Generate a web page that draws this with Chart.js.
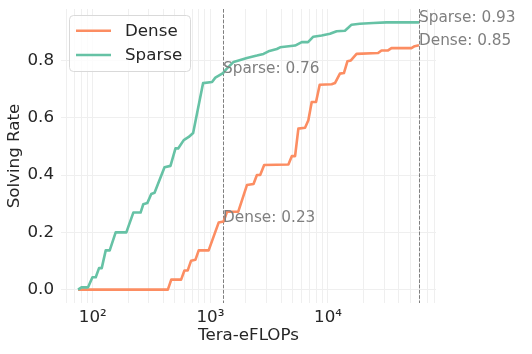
<!DOCTYPE html>
<html><head><meta charset="utf-8">
<script src="https://cdn.jsdelivr.net/npm/chart.js@4/dist/chart.umd.min.js"></script>
<style>html,body{margin:0;padding:0;background:#fff}</style>
</head><body>
<canvas id="c" width="532" height="354"></canvas>
<script>
// ---- data ----
const seriesNames = ['Dense', 'Sparse'];
const seriesColors = ['#fc8d62', '#66c2a5'];

const denseFlops = [75, 435, 465, 564, 602, 642, 686, 746, 796, 967, 1176, 1296, 1385, 1727, 2046, 2328, 2488, 2652, 2868, 4608, 4925, 5253, 5602, 6384, 6812, 7274, 7915, 8505, 10750, 11465, 12638, 13665, 14631, 15661, 17509, 26690, 28520, 32430, 34660, 51210, 54610, 59380];
const denseRate  = [0, 0, 0.035, 0.035, 0.067, 0.067, 0.101, 0.104, 0.137, 0.137, 0.234, 0.238, 0.272, 0.272, 0.365, 0.369, 0.4, 0.4, 0.435, 0.437, 0.466, 0.466, 0.562, 0.565, 0.591, 0.655, 0.655, 0.715, 0.717, 0.721, 0.754, 0.756, 0.797, 0.8, 0.823, 0.826, 0.835, 0.835, 0.843, 0.843, 0.85, 0.853];

const sparseFlops = [75, 80.2, 91.2, 99.4, 106, 113.1, 119.2, 128.9, 139.4, 156.6, 193, 221.3, 255.1, 268.9, 290.8, 314.4, 335.3, 407.6, 458.1, 505.1, 532.4, 593.8, 654.9, 713.6, 867.5, 1033.7, 1102.6, 1281, 1367, 1576, 2046, 2488, 2829, 3120, 3675, 3920, 5253, 5987, 6769, 7507, 8844, 10397, 11851, 13937, 14859, 15878, 18670, 24200, 31440, 59380];
const sparseRate  = [0, 0.008, 0.008, 0.043, 0.043, 0.075, 0.075, 0.137, 0.137, 0.2, 0.2, 0.269, 0.269, 0.298, 0.302, 0.334, 0.338, 0.427, 0.432, 0.493, 0.493, 0.522, 0.533, 0.547, 0.721, 0.725, 0.74, 0.756, 0.77, 0.795, 0.809, 0.817, 0.823, 0.832, 0.84, 0.846, 0.852, 0.864, 0.864, 0.883, 0.887, 0.893, 0.902, 0.904, 0.914, 0.925, 0.928, 0.931, 0.933, 0.933];

const markerFlops = [1281, 59380];
const annotationFlops = [1281, 1281, 59380, 59380];
const annotationRates = [0.756, 0.236, 0.933, 0.853];
const annotationTexts = ['Sparse: 0.76', 'Dense: 0.23', 'Sparse: 0.93', 'Dense: 0.85'];

const yTickValues = [0, 0.2, 0.4, 0.6, 0.8];
const xTickValues = [100, 1000, 10000];
const xTickLabels = ['10\u00B2', '10\u00B3', '10\u2074'];
const xTitle = 'Tera-eFLOPs';
const yTitle = 'Solving Rate';

// ---- chart ----
const FONT = 'DejaVu Sans';
const TXT = '#262626';

function toPoints(xs, ys) { return xs.map((x, i) => ({ x: x, y: ys[i] })); }

const overlayPlugin = {
  id: 'overlay',
  beforeDatasetsDraw(chart) {
    const { ctx, chartArea: a, scales: { x } } = chart;
    ctx.save();
    ctx.strokeStyle = '#7f7f7f';
    ctx.lineWidth = 1;
    ctx.setLineDash([3.7, 1.6]);
    markerFlops.forEach(v => {
      const px = Math.round(x.getPixelForValue(v)) + 0.5;
      ctx.beginPath(); ctx.moveTo(px, a.top); ctx.lineTo(px, a.bottom); ctx.stroke();
    });
    ctx.restore();
  },
  afterDatasetsDraw(chart) {
    const { ctx, scales: { x, y } } = chart;
    ctx.save();
    ctx.fillStyle = '#7f7f7f';
    ctx.font = '15.3px "' + FONT + '"';
    ctx.textAlign = 'left';
    ctx.textBaseline = 'alphabetic';
    annotationTexts.forEach((t, i) => {
      ctx.fillText(t, x.getPixelForValue(annotationFlops[i]), y.getPixelForValue(annotationRates[i]));
    });
    // legend
    const bx = 69.5, by = 15.5, bw = 121, bh = 56, r = 4;
    ctx.beginPath();
    ctx.moveTo(bx + r, by); ctx.lineTo(bx + bw - r, by); ctx.arcTo(bx + bw, by, bx + bw, by + r, r);
    ctx.lineTo(bx + bw, by + bh - r); ctx.arcTo(bx + bw, by + bh, bx + bw - r, by + bh, r);
    ctx.lineTo(bx + r, by + bh); ctx.arcTo(bx, by + bh, bx, by + bh - r, r);
    ctx.lineTo(bx, by + r); ctx.arcTo(bx, by, bx + r, by, r); ctx.closePath();
    ctx.fillStyle = 'rgba(255,255,255,0.8)'; ctx.fill();
    ctx.strokeStyle = '#d9d9d9'; ctx.lineWidth = 1; ctx.stroke();
    chart.data.datasets.forEach((ds, i) => {
      const ly = 30.7 + i * 24.3;
      ctx.strokeStyle = ds.borderColor; ctx.lineWidth = 2.6; ctx.lineCap = 'butt';
      ctx.beginPath(); ctx.moveTo(76, ly); ctx.lineTo(111, ly); ctx.stroke();
      ctx.fillStyle = TXT; ctx.font = '16.7px "' + FONT + '"'; ctx.textBaseline = 'middle';
      ctx.fillText(ds.label, 125, ly + 1);
    });
    ctx.restore();
  }
};

new Chart(document.getElementById('c'), {
  type: 'line',
  data: {
    datasets: [
      { label: seriesNames[0], data: toPoints(denseFlops, denseRate), borderColor: seriesColors[0], backgroundColor: seriesColors[0], borderWidth: 2.6, pointRadius: 0, tension: 0, order: 1, borderJoinStyle: 'round' },
      { label: seriesNames[1], data: toPoints(sparseFlops, sparseRate), borderColor: seriesColors[1], backgroundColor: seriesColors[1], borderWidth: 2.6, pointRadius: 0, tension: 0, order: 0, borderJoinStyle: 'round' }
    ]
  },
  options: {
    responsive: false,
    devicePixelRatio: 1,
    animation: false,
    layout: { padding: { left: 0, top: 9, right: 96, bottom: 0 } },
    plugins: { legend: { display: false }, tooltip: { enabled: false } },
    scales: {
      x: {
        type: 'logarithmic',
        min: 53.7, max: 82900,
        border: { display: false },
        grid: { color: '#efefef', lineWidth: 1, drawTicks: false },
        afterBuildTicks(scale) {
          const t = [];
          for (let e = 1; e <= 4; e++) for (let m = 1; m <= 9; m++) {
            const v = m * Math.pow(10, e);
            if (v > scale.min && v < scale.max) t.push({ value: v });
          }
          scale.ticks = t;
        },
        afterFit(scale) { scale.height = 51; scale.paddingLeft = 0; scale.paddingRight = 0; },
        ticks: {
          autoSkip: false, maxRotation: 0, padding: 5, color: TXT,
          font: { family: FONT, size: 16.7 },
          callback(v) { const i = xTickValues.indexOf(v); return i >= 0 ? xTickLabels[i] : ''; }
        },
        title: { display: true, text: xTitle, color: TXT, font: { family: FONT, size: 16.7 }, padding: { top: 0, bottom: 8 } }
      },
      y: {
        type: 'linear',
        min: -0.0467, max: 0.9797,
        border: { display: false },
        grid: { color: '#efefef', lineWidth: 1, drawTicks: false },
        afterBuildTicks(scale) { scale.ticks = yTickValues.map(v => ({ value: v })); },
        afterFit(scale) { scale.width = 61; scale.paddingTop = 0; scale.paddingBottom = 0; },
        ticks: {
          padding: 7, color: TXT, font: { family: FONT, size: 16.7 },
          callback(v) { return Number(v).toFixed(1); }
        },
        title: { display: true, text: yTitle, color: TXT, font: { family: FONT, size: 16.7 }, padding: { top: 5, bottom: 0 } }
      }
    }
  },
  plugins: [overlayPlugin]
});
</script>
</body></html>
